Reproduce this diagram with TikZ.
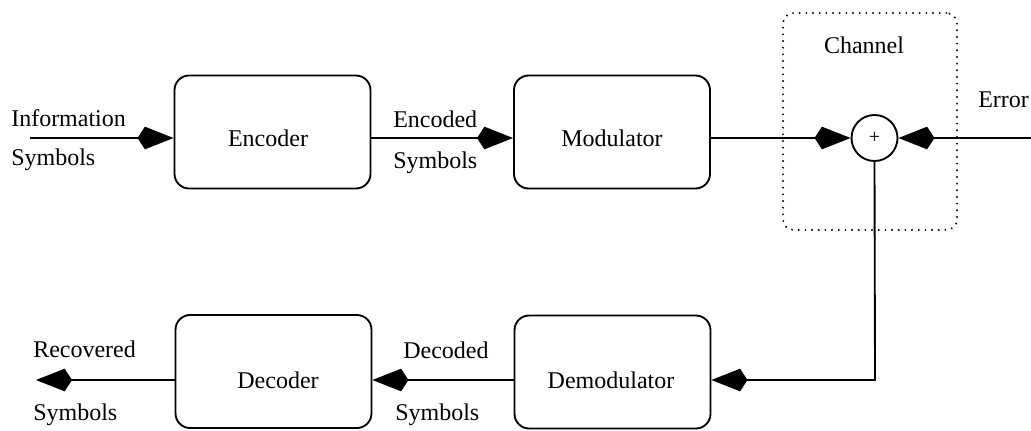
\documentclass[tikz,border=0pt]{standalone}
\usepackage{fontspec}
\setmainfont{Liberation Serif}
\usetikzlibrary{arrows.meta}
\begin{document}
\begin{tikzpicture}[x=0.75pt,y=-0.75pt,
  every node/.style={font=\fontsize{18pt}{20pt}\selectfont},
  blockbox/.style={draw, line width=1.4pt, rounded corners=11pt, minimum width=147pt, minimum height=84.75pt, inner sep=0pt},
  chanbox/.style={draw, line width=1.6pt, dash pattern=on 0pt off 5pt, line cap=round, rounded corners=8pt, minimum width=130.5pt, minimum height=162.75pt, inner sep=0pt},
  sumnode/.style={draw, circle, line width=1.4pt, minimum size=34.5pt, inner sep=0pt},
  txt/.style={inner sep=0pt, anchor=base},
  txtw/.style={inner sep=0pt, anchor=base west},
  arr/.style={line width=1.4pt, -{Kite[length=27pt, width=17pt, inset=5.5pt]}}
]
\useasboundingbox (0,0) rectangle (1031,430);

% blocks
\node[blockbox] (enc) at (272.5,132) {};
\node[blockbox] (mod) at (612,132) {};
\node[blockbox] (dec) at (273.5,371.5) {};
\node[blockbox] (dem) at (612.5,372) {};
\node[chanbox] (chan) at (870,121.5) {};
\node[sumnode] (sum) at (874.5,138) {\fontsize{15pt}{16pt}\selectfont +};

% block labels
\node[txt] (encT) at (268,146) {Encoder};
\node[txt] (modT) at (612,146) {Modulator};
\node[txt] (decT) at (278,388) {Decoder};
\node[txt] (demT) at (611,388) {Demodulator};
\node[txt] (chanT) at (864,53) {Channel};

% signal labels
\node[txtw] (info1) at (11,126) {Information};
\node[txtw] (info2) at (11,165) {Symbols};
\node[txtw] (encd1) at (393,127) {Encoded};
\node[txtw] (encd2) at (393,168) {Symbols};
\node[txtw] (err) at (978,107) {Error};
\node[txtw] (decd1) at (403,358) {Decoded};
\node[txtw] (decd2) at (395,420) {Symbols};
\node[txtw] (rec1) at (33,357) {Recovered};
\node[txtw] (rec2) at (33,420) {Symbols};

% connector end points
\coordinate (inS) at (30,138);
\coordinate (errS) at (1031,138);
\coordinate (turn) at (875,380);
\coordinate (outS) at (36,380);

% connectors
\draw[arr] (inS) -- (inS -| enc.west);
\draw[arr] (enc.east |- inS) -- (mod.west |- inS);
\draw[arr] (mod.east |- inS) -- (sum.west);
\draw[arr] (errS) -- (sum.east);
\draw[arr] (sum.south) -- (turn) -- (turn -| dem.east);
\draw[arr] (dem.west |- turn) -- (dec.east |- turn);
\draw[arr] (dec.west |- turn) -- (outS);
\end{tikzpicture}
\end{document}
